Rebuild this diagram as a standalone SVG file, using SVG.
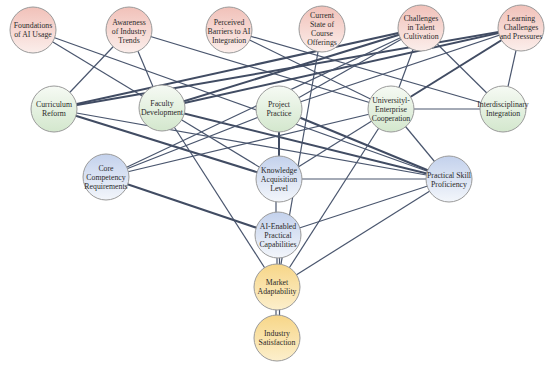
<svg xmlns="http://www.w3.org/2000/svg" width="550" height="368" viewBox="0 0 550 368">
<defs>
<linearGradient id="gP" x1="0" y1="0" x2="0" y2="1"><stop offset="0" stop-color="#f1c1b9"/><stop offset="1" stop-color="#fbeeeb"/></linearGradient>
<linearGradient id="gG" x1="0" y1="0" x2="0" y2="1"><stop offset="0" stop-color="#f6faf4"/><stop offset="1" stop-color="#d3e7cd"/></linearGradient>
<linearGradient id="gB" x1="0" y1="0" x2="0" y2="1"><stop offset="0" stop-color="#c3d1ec"/><stop offset="1" stop-color="#f3f6fb"/></linearGradient>
<linearGradient id="gY" x1="0" y1="0" x2="0" y2="1"><stop offset="0" stop-color="#f7d688"/><stop offset="1" stop-color="#fcefcc"/></linearGradient>
</defs>
<style>
.e{stroke:#4a566e;stroke-width:1.2;fill:none}
.t{stroke:#414c63;stroke-width:2;fill:none}
circle{stroke:#9a9a9a;stroke-width:1}
.p circle{fill:url(#gP)}
.g circle{fill:url(#gG)}
.b circle{fill:url(#gB)}
.y circle{fill:url(#gY)}
text{font-family:"Liberation Serif","Times New Roman",serif;font-size:7.8px;fill:#2a2a2a;text-anchor:middle}
</style>
<rect width="550" height="368" fill="#ffffff"/>
<g id="edges">
<line class="e" x1="33" y1="30" x2="162" y2="108"/>
<line class="e" x1="33" y1="30" x2="449" y2="179"/>
<line class="e" x1="129" y1="30" x2="54" y2="109"/>
<line class="e" x1="129" y1="30" x2="162" y2="108"/>
<line class="e" x1="129" y1="30" x2="391" y2="109"/>
<line class="e" x1="229" y1="30" x2="391" y2="109"/>
<line class="e" x1="229" y1="30" x2="503" y2="109"/>
<line class="e" x1="322" y1="29" x2="277" y2="287"/>
<line class="e" x1="421" y1="28" x2="391" y2="109"/>
<line class="e" x1="421" y1="28" x2="503" y2="109"/>
<line class="e" x1="521" y1="28" x2="503" y2="109"/>
<line class="t" x1="521" y1="28" x2="391" y2="109"/>
<line class="t" x1="54" y1="109" x2="421" y2="28"/>
<line class="t" x1="54" y1="109" x2="521" y2="28"/>
<line class="t" x1="162" y1="108" x2="421" y2="28"/>
<line class="t" x1="162" y1="108" x2="521" y2="28"/>
<line class="t" x1="54" y1="109" x2="279" y2="179"/>
<line class="e" x1="54" y1="109" x2="449" y2="179"/>
<line class="e" x1="162" y1="108" x2="279" y2="179"/>
<line class="t" x1="162" y1="108" x2="449" y2="179"/>
<line class="e" x1="162" y1="108" x2="277" y2="287"/>
<line class="t" x1="279" y1="109" x2="279" y2="179"/>
<line class="t" x1="279" y1="109" x2="449" y2="179"/>
<line class="e" x1="279" y1="109" x2="421" y2="28"/>
<line class="e" x1="279" y1="109" x2="521" y2="28"/>
<line class="e" x1="106" y1="177" x2="279" y2="109"/>
<line class="e" x1="106" y1="177" x2="391" y2="109"/>
<line class="e" x1="106" y1="177" x2="421" y2="28"/>
<line class="t" x1="106" y1="177" x2="278" y2="235"/>
<line class="e" x1="391" y1="109" x2="503" y2="109"/>
<line class="e" x1="391" y1="109" x2="449" y2="179"/>
<line class="e" x1="391" y1="109" x2="277" y2="287"/>
<line class="e" x1="279" y1="179" x2="391" y2="109"/>
<line class="e" x1="279" y1="179" x2="449" y2="179"/>
<line class="e" x1="276" y1="179" x2="276" y2="235"/>
<line class="e" x1="278" y1="235" x2="449" y2="179"/>
<line class="e" x1="277" y1="235" x2="277" y2="287"/>
<line class="e" x1="277" y1="287" x2="449" y2="179"/>
<line class="e" x1="276" y1="287" x2="276" y2="338"/>
<line class="e" x1="279.5" y1="235" x2="279.5" y2="338"/>
</g>
<g id="n_foundations" class="p"><circle cx="33" cy="30" r="23"/><text x="33" y="28">Foundations</text><text x="33" y="37">of AI Usage</text></g>
<g id="n_awareness" class="p"><circle cx="129" cy="30" r="23"/><text x="129" y="25">Awareness</text><text x="129" y="34">of Industry</text><text x="129" y="43">Trends</text></g>
<g id="n_barriers" class="p"><circle cx="229" cy="30" r="23"/><text x="229" y="25">Perceived</text><text x="229" y="34">Barriers  to AI</text><text x="229" y="43">Integration</text></g>
<g id="n_current" class="p"><circle cx="322" cy="29" r="23"/><text x="322" y="18">Current</text><text x="322" y="27">State of</text><text x="322" y="36">Course</text><text x="322" y="45">Offerings</text></g>
<g id="n_talent" class="p"><circle cx="421" cy="28" r="23"/><text x="421" y="21">Challenges</text><text x="421" y="30">in Talent</text><text x="421" y="39">Cultivation</text></g>
<g id="n_learning" class="p"><circle cx="521" cy="28" r="23"/><text x="521" y="21">Learning</text><text x="521" y="30">Challenges</text><text x="521" y="39">and Pressures</text></g>
<g id="n_curriculum" class="g"><circle cx="54" cy="109" r="23"/><text x="54" y="107">Curriculum</text><text x="54" y="116">Reform</text></g>
<g id="n_faculty" class="g"><circle cx="162" cy="108" r="23"/><text x="162" y="106">Faculty</text><text x="162" y="115">Development</text></g>
<g id="n_project" class="g"><circle cx="279" cy="109" r="23"/><text x="279" y="107">Project</text><text x="279" y="116">Practice</text></g>
<g id="n_university" class="g"><circle cx="391" cy="109" r="23"/><text x="391" y="103">Universityl-</text><text x="391" y="112">Enterprise</text><text x="391" y="121">Cooperation</text></g>
<g id="n_interdisciplinary" class="g"><circle cx="503" cy="109" r="23"/><text x="503" y="107">Interdisciplinary</text><text x="503" y="116">Integration</text></g>
<g id="n_core" class="b"><circle cx="106" cy="177" r="23"/><text x="106" y="171">Core</text><text x="106" y="180">Competency</text><text x="106" y="189">Requirements</text></g>
<g id="n_knowledge" class="b"><circle cx="279" cy="179" r="23"/><text x="279" y="173">Knowledge</text><text x="279" y="182">Acquisition</text><text x="279" y="191">Level</text></g>
<g id="n_practical" class="b"><circle cx="449" cy="179" r="23"/><text x="449" y="178">Practical Skill</text><text x="449" y="187">Proficiency</text></g>
<g id="n_aienabled" class="b"><circle cx="278" cy="235" r="23"/><text x="278" y="229">AI-Enabled</text><text x="278" y="238">Practical</text><text x="278" y="247">Capabilities</text></g>
<g id="n_market" class="y"><circle cx="277" cy="287" r="23"/><text x="277" y="285">Market</text><text x="277" y="294">Adaptability</text></g>
<g id="n_industry" class="y"><circle cx="277" cy="338" r="23"/><text x="277" y="336">Industry</text><text x="277" y="345">Satisfaction</text></g>
</svg>
